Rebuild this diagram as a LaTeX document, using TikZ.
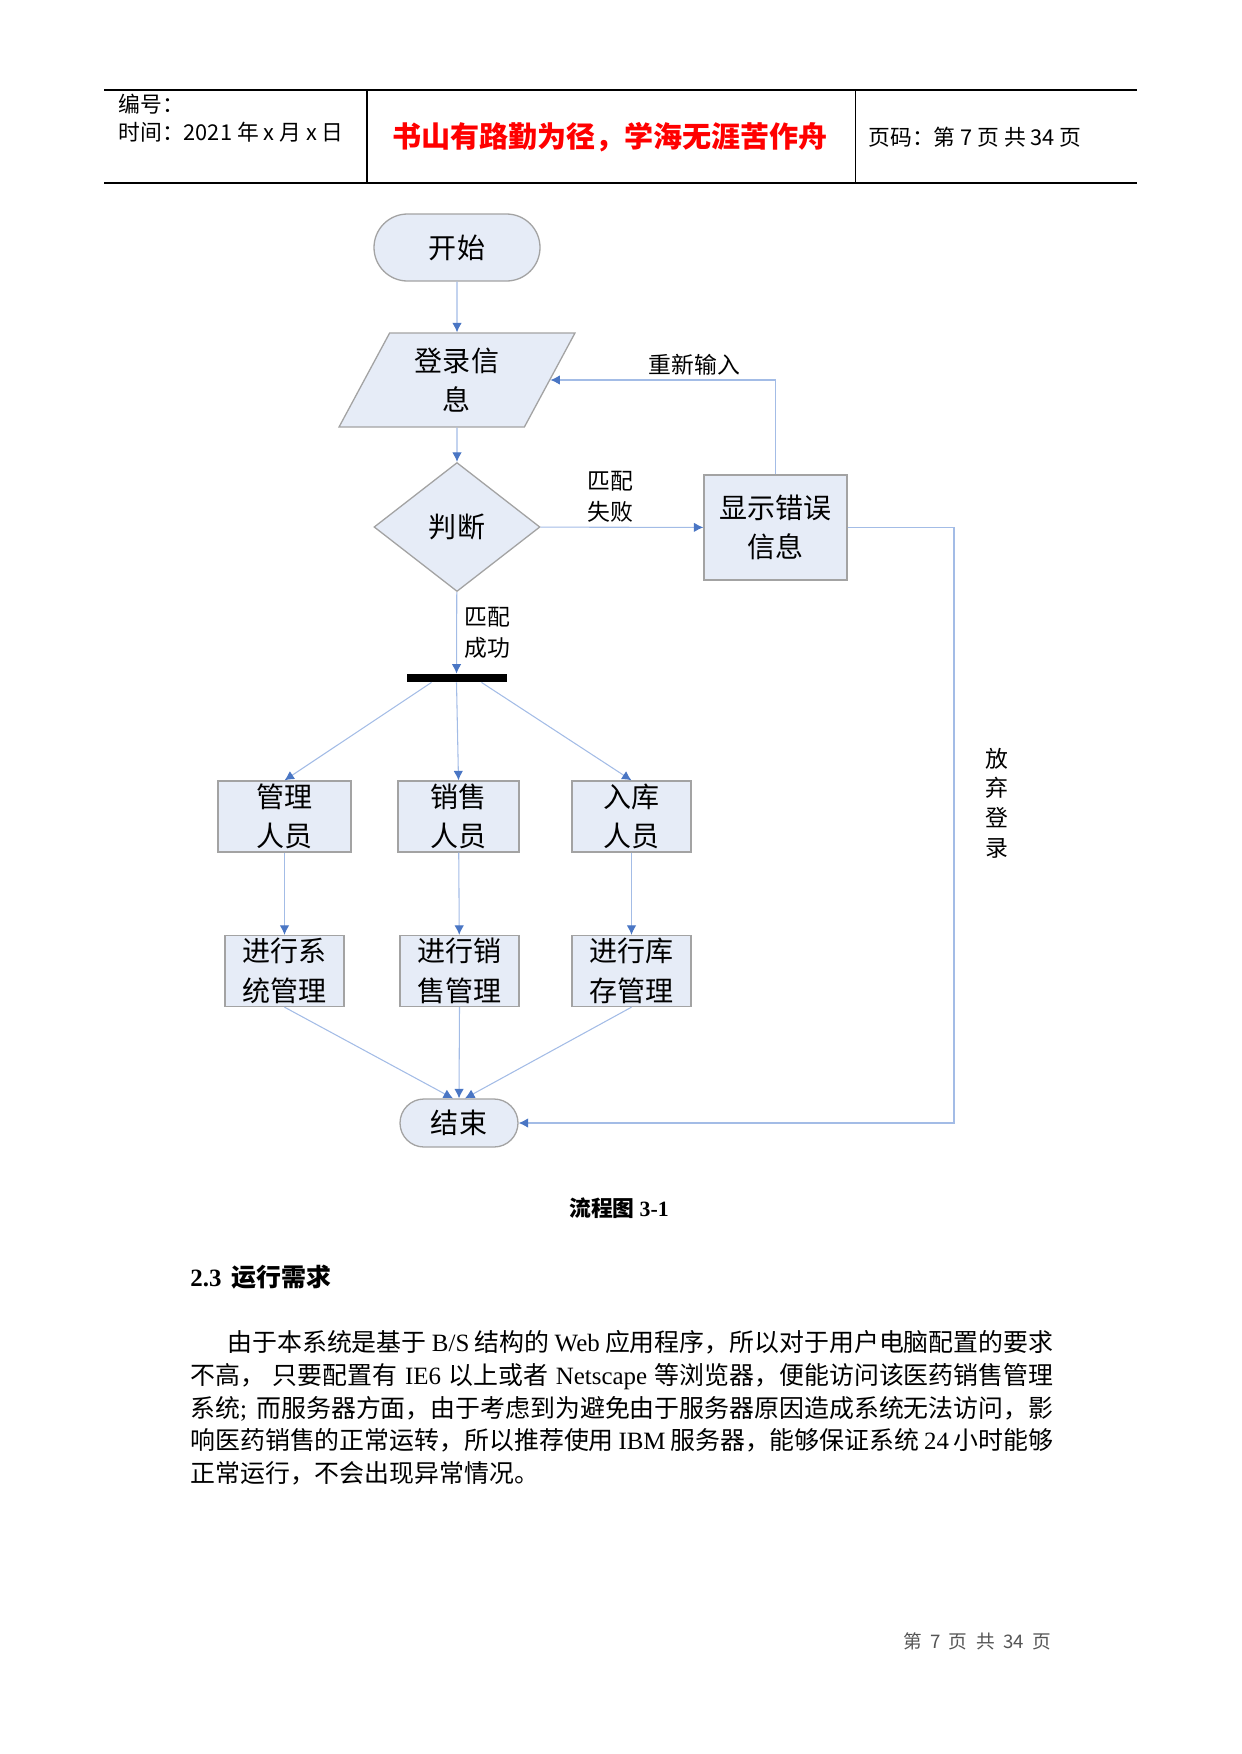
\documentclass[tikz,border=0pt]{standalone}
\usepackage{fontspec}
\setmainfont{Noto Sans CJK SC}
\newfontfamily\tnr{Liberation Serif}
\usepackage{xcolor}
\usepackage{tikz}
\usetikzlibrary{shapes.geometric, shapes.misc, arrows, arrows.meta, positioning, calc}
\XeTeXlinebreaklocale "zh"
\XeTeXlinebreakskip=0pt plus 1pt
\newdimen\ppx \ppx=0.16933mm
\newcommand\boxfont{\fontsize{13.5}{19}\selectfont}
\newcommand\lblfont{\fontsize{11}{15}\selectfont}
\definecolor{boxfill}{HTML}{E6ECF7}
\definecolor{boxline}{HTML}{A3A3A3}
\definecolor{linkblue}{HTML}{A3BCE6}
\definecolor{tipblue}{HTML}{4A76C4}
\definecolor{footgray}{HTML}{555555}

\begin{document}
\begin{tikzpicture}[
    x=0.16933mm, y=-0.16933mm,
    term/.style={rounded rectangle, draw=boxline, fill=boxfill, line width=1.3\ppx, inner sep=0pt, font=\boxfont},
    io/.style={trapezium, trapezium left angle=64, trapezium right angle=116, trapezium stretches=true, draw=boxline, fill=boxfill, line width=1.3\ppx, minimum width=236\ppx, minimum height=94\ppx, inner sep=0pt, align=center, font=\boxfont},
    decision/.style={diamond, draw=boxline, fill=boxfill, line width=1.3\ppx, minimum width=166\ppx, minimum height=129\ppx, inner sep=0pt, font=\boxfont},
    proc/.style={rectangle, draw=boxline, fill=boxfill, line width=1.3\ppx, minimum height=71\ppx, inner sep=0pt, align=center, font=\boxfont},
    bar/.style={rectangle, fill=black, minimum width=100\ppx, minimum height=8\ppx, inner sep=0pt},
    lbl/.style={align=left, font=\lblfont, inner sep=7\ppx},
    head/.style={inner sep=0pt, font=\fontsize{10.5}{13}\selectfont},
    title/.style={inner sep=0pt, text=red, font=\fontsize{14}{17}\selectfont\bfseries},
    para/.style={inner sep=0pt, anchor=base west, font=\fontsize{12}{16}\selectfont},
    arrow/.style={draw=linkblue, line width=0.18mm, -{Latex[length=1.6mm, width=1.6mm, color=tipblue]}}
]
    \useasboundingbox (0,0) rectangle (1241,1754);

    % Page header
    \draw[line width=2\ppx] (104,89.6) -- (1137,89.6);
    \draw[line width=2\ppx] (104,182.6) -- (1137,182.6);
    \draw[line width=2\ppx] (367,89.6) -- (367,182.6);
    \draw[line width=1\ppx] (855,89.6) -- (855,182.6);
    \node[head, anchor=west] (serial) at (118,104) {编号：};
    \node[head, anchor=west] (date) at (118,132) {时间：2021 年 x 月 x 日};
    \node[title] (motto) at (610,137) {书山有路勤为径，学海无涯苦作舟};
    \node[head, anchor=west] (pageno) at (868,137) {页码：第 7 页 共 34 页};

    % Terminals
    \node[term, minimum width=166\ppx, minimum height=67\ppx] (start) at (457,247.5) {开始};
    \node[term, minimum width=118\ppx, minimum height=48\ppx] (end) at (459,1123) {结束};

    % Login and check
    \node[io] (login) at (457,380) {登录信\\息};
    \node[decision] (judge) at (457,527) {判断};
    \node[proc, minimum width=143\ppx, minimum height=105\ppx] (err) at (775.5,527.5) {显示错误\\信息};

    % Fork bar
    \node[bar] (fork) at (456.5,678) {};

    % Roles
    \node[proc, minimum width=133\ppx] (admin) at (284.5,816.5) {管理\\人员};
    \node[proc, minimum width=121\ppx] (sales) at (458.5,816.5) {销售\\人员};
    \node[proc, minimum width=119\ppx] (stock) at (631.5,816.5) {入库\\人员};

    % Tasks
    \node[proc, minimum width=119\ppx] (sysmgr) at (284.5,971) {进行系\\统管理};
    \node[proc, minimum width=119\ppx] (salemgr) at (459.5,971) {进行销\\售管理};
    \node[proc, minimum width=119\ppx] (stockmgr) at (631.5,971) {进行库\\存管理};

    % Arrows
    \draw[arrow] (start) -- (login);
    \draw[arrow] (login) -- (judge);
    \draw[arrow] (judge) -- (err) node[lbl, pos=0.43, above, yshift=-3\ppx] (failnote) {匹配\\失败};
    \draw[arrow] (err) |- (login.east) node[lbl, pos=0.68, above, yshift=-3\ppx] (retrynote) {重新输入};
    \draw[arrow] (judge) -- (fork) node[lbl, midway, right] (oknote) {匹配\\成功};

    % Fork to roles
    \draw[arrow] ([xshift=-25\ppx]fork.south) -- (admin.north);
    \draw[arrow] (fork.south) -- (sales.north);
    \draw[arrow] ([xshift=25\ppx]fork.south) -- (stock.north);

    % Roles to tasks
    \draw[arrow] (admin) -- (sysmgr);
    \draw[arrow] (sales) -- (salemgr);
    \draw[arrow] (stock) -- (stockmgr);

    % Tasks to end
    \draw[arrow] (sysmgr.south) -- ([xshift=-6\ppx]end.north);
    \draw[arrow] (salemgr.south) -- (end.north);
    \draw[arrow] (stockmgr.south) -- ([xshift=6\ppx]end.north);

    % Give up
    \coordinate (quit) at (954,800);
    \draw[arrow] (err.east) -| (quit) |- (end.east);
    \node[lbl, align=center, font=\fontsize{11}{14.3}\selectfont] (quitnote) at (997,803) {放\\弃\\登\\录};

    % Caption and text
    \node[inner sep=0pt, font=\fontsize{10.5}{13}\selectfont\bfseries] (caption) at (619,1208) {流程图 {\tnr\bfseries 3-1}};
    \node[inner sep=0pt, anchor=west, font=\fontsize{12}{15}\selectfont\bfseries] (heading) at (190,1277) {{\tnr\bfseries 2.3}\hspace{0.4em}运行需求};
    \node[para] (para1) at (227,1351.5) {\makebox[826\ppx][s]{由于本系统是基于 {\tnr B/S} 结构的 {\tnr Web} 应用程序，所以对于用户电脑配置的要求}};
    \node[para] (para2) at (190,1384.3) {\makebox[863\ppx][s]{不高， 只要配置有 {\tnr IE6} 以上或者 {\tnr Netscape} 等浏览器，便能访问该医药销售管理}};
    \node[para] (para3) at (190,1417) {\makebox[863\ppx][s]{系统{\tnr ;} 而服务器方面，由于考虑到为避免由于服务器原因造成系统无法访问，影}};
    \node[para] (para4) at (190,1449.8) {\makebox[863\ppx][s]{响医药销售的正常运转，所以推荐使用 {\tnr IBM} 服务器，能够保证系统 {\tnr 24} 小时能够}};
    \node[para] (para5) at (190,1482.5) {正常运行，不会出现异常情况。};

    % Page footer
    \node[inner sep=0pt, text=footgray, font=\fontsize{9}{11}\selectfont] (footer) at (977,1641) {第\hspace{0.45em}7\hspace{0.45em}页\hspace{0.45em}共\hspace{0.45em}34\hspace{0.45em}页};
\end{tikzpicture}
\end{document}
